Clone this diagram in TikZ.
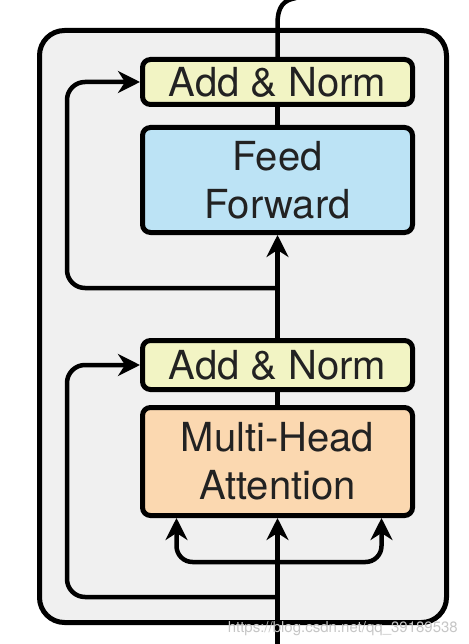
\documentclass[tikz,border=0pt]{standalone}
\usepackage{fontspec}
\setmainfont{TeX Gyre Heros}
\usetikzlibrary{arrows.meta}
\definecolor{normfill}{RGB}{242,244,196}
\definecolor{fffill}{RGB}{188,227,245}
\definecolor{attfill}{RGB}{251,216,176}
\definecolor{bgfill}{RGB}{240,240,240}
\definecolor{txt}{RGB}{34,34,34}
\tikzset{
  blk/.style={draw=black, line width=5pt, rounded corners=8pt, minimum width=270pt, text=txt,
    font=\fontsize{40}{48}\selectfont, align=center, inner sep=0pt},
  wire/.style={draw=black, line width=4.5pt},
  arr/.style={wire, -{Stealth[length=22pt,width=22pt,inset=7pt]}},
}
\begin{document}
\begin{tikzpicture}[x=1pt,y=-1pt]
\useasboundingbox (0,0) rectangle (468,644);
% outer block
\draw[line width=5pt, fill=bgfill, rounded corners=25pt] (39.5,30.5) rectangle (446.5,622.5);
% blocks
\node[blk, fill=normfill, minimum height=45pt] (an1) at (277.5,82) {Add \& Norm};
\node[blk, fill=fffill, minimum height=105pt] (ff) at (277.5,180) {Feed\\Forward};
\node[blk, fill=normfill, minimum height=49pt] (an2) at (277.5,365) {Add \& Norm};
\node[blk, fill=attfill, minimum height=108pt] (mha) at (277.5,461.5) {Multi-Head\\Attention};
% coordinates
\coordinate (in) at (277.5,650);
\coordinate (br) at (277.5,562);
\coordinate (r2) at (277.5,597);
\coordinate (r1) at (277.5,288);
\coordinate (out) at (296,-2);
% main path
\draw[arr] (in) -- (mha.south);
\draw[wire] (mha.north) -- (an2.south);
\draw[arr] (an2.north) -- (ff.south);
\draw[wire] (ff.north) -- (an1.south);
\draw[wire] (an1.north) -- (277.5,24) .. controls (277.5,6) and (284,0) .. (out);
% branches into attention
\draw[arr, rounded corners=16pt] (br) -| ([xshift=-101pt]mha.south);
\draw[arr, rounded corners=16pt] (br) -| ([xshift=104pt]mha.south);
% residuals
\draw[arr, rounded corners=18pt] (r1) -- (67,288) -- (67,82) -- (an1.west);
\draw[arr, rounded corners=18pt] (r2) -- (67,597) -- (67,365) -- (an2.west);
% watermark
\node[anchor=base east, text=gray!45, font=\fontsize{15}{15}\selectfont, inner sep=0pt] (wm) at (458,632) {https://blog.csdn.net/qq\_39189538};
\end{tikzpicture}
\end{document}
